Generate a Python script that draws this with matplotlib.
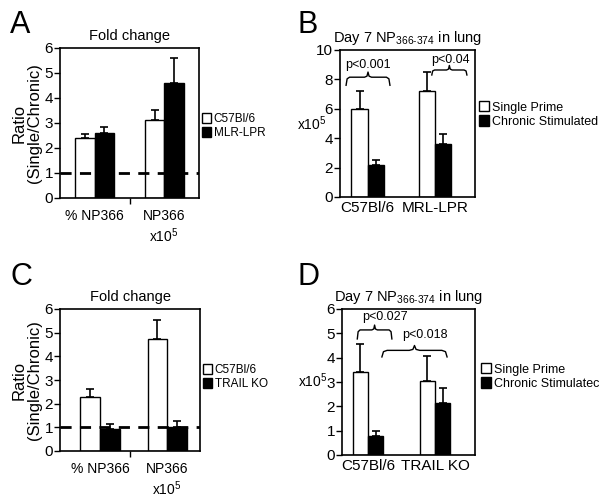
import numpy as np
import matplotlib
matplotlib.use("Agg")
import matplotlib.pyplot as plt
from matplotlib.patches import Patch

plt.rcParams['font.family'] = ['Liberation Sans', 'DejaVu Sans']
plt.rcParams['mathtext.default'] = 'regular'

W, H = 600, 504

# panel A: fold change, C57Bl/6 vs MLR-LPR
fold_cats = ['% NP366', 'NP366\nx10$^5$']
a_white = [2.4, 3.1]
a_white_err = [0.17, 0.4]
a_black = [2.6, 4.6]
a_black_err = [0.25, 1.0]

# panel B: day 7 counts, C57Bl/6 vs MRL-LPR
b_cats = ['C57Bl/6', 'MRL-LPR']
b_single = [6.0, 7.2]
b_single_err = [1.2, 1.3]
b_chronic = [2.2, 3.6]
b_chronic_err = [0.3, 0.7]

# panel C: fold change, C57Bl/6 vs TRAIL KO
c_white = [2.3, 4.75]
c_white_err = [0.33, 0.8]
c_black = [0.95, 1.0]
c_black_err = [0.18, 0.25]

# panel D: day 7 counts, C57Bl/6 vs TRAIL KO
d_cats = ['C57Bl/6', 'TRAIL KO']
d_single = [3.4, 3.05]
d_single_err = [1.15, 1.0]
d_chronic = [0.8, 2.15]
d_chronic_err = [0.2, 0.6]


def px_axes(fig, left, top, right, bottom):
    return fig.add_axes([left / W, 1 - bottom / H, (right - left) / W, (bottom - top) / H])


def bars(ax, centers, w, v1, e1, v2, e2):
    c = np.array(centers)
    ax.bar(c - w / 2, v1, w, color='white', edgecolor='black', linewidth=1.0, zorder=2)
    ax.bar(c + w / 2, v2, w, color='black', edgecolor='black', linewidth=1.0, zorder=2)
    ax.errorbar(c - w / 2, v1, yerr=[np.zeros(len(v1)), e1], fmt='none', ecolor='black',
                elinewidth=1.2, capsize=3, capthick=1.2, zorder=3)
    ax.errorbar(c + w / 2, v2, yerr=[np.zeros(len(v2)), e2], fmt='none', ecolor='black',
                elinewidth=1.2, capsize=3, capthick=1.2, zorder=3)


def style(ax, ymax, step=1):
    ax.set_xlim(0, 2)
    ax.set_ylim(0, ymax)
    ax.set_yticks(np.arange(0, ymax + 0.01, step))
    for s in ax.spines.values():
        s.set_linewidth(1.2)
    ax.tick_params(axis='y', direction='out', length=4, width=1.0, labelsize=11, pad=1)
    ax.tick_params(axis='x', length=0, labelsize=10, pad=8)


def brace(ax, x0, x1, y0, y1, y2):
    xm = (x0 + x1) / 2
    d = (x1 - x0) * 0.08
    xs = [x0, x0 + d * 0.3, x0 + d, xm - d, xm - d * 0.3, xm, xm + d * 0.3, xm + d, x1 - d, x1 - d * 0.3, x1]
    ys = [y0, y1 - (y1 - y0) * 0.2, y1, y1, y1 + (y2 - y1) * 0.2, y2,
          y1 + (y2 - y1) * 0.2, y1, y1, y1 - (y1 - y0) * 0.2, y0]
    ax.plot(xs, ys, color='black', linewidth=1.0, clip_on=False)


def legend(fig, x, y, labels, size):
    handles = [Patch(facecolor='white', edgecolor='black'), Patch(facecolor='black', edgecolor='black')]
    fig.legend(handles, labels, loc='upper left', bbox_to_anchor=(x / W, 1 - y / H),
               frameon=False, fontsize=size, handlelength=0.8, handleheight=0.9,
               handletextpad=0.2, labelspacing=0.15, borderpad=0, borderaxespad=0)


fig = plt.figure(figsize=(6, 5.04), dpi=100)

# A
ax = px_axes(fig, 60, 48, 199, 198)
bars(ax, [0.5, 1.5], 0.28, a_white, a_white_err, a_black, a_black_err)
ax.axhline(1, color='black', linestyle=(0, (4, 3)), linewidth=2, zorder=4)
style(ax, 6)
ax.set_xticks([0.5, 1.5], fold_cats, va='top')
ax.set_xticks([1.0], minor=True)
ax.tick_params(axis='x', which='minor', direction='out', length=4, width=1.0)
ax.set_title('Fold change', fontsize=10.5, pad=6)
ax.set_ylabel('Ratio\n(Single/Chronic)', fontsize=12, labelpad=2, linespacing=1.0)
legend(fig, 202, 113, ['C57Bl/6', 'MLR-LPR'], 8.5)
fig.text(10 / W, 1 - 33 / H, 'A', fontsize=22)

# B
ax = px_axes(fig, 340, 50, 475, 197)
bars(ax, [0.41, 1.41], 0.24, b_single, b_single_err, b_chronic, b_chronic_err)
style(ax, 10, 2)
ax.set_xticks([0.41, 1.41], b_cats)
ax.tick_params(axis='x', labelsize=11, pad=3)
ax.set_title('Day 7 NP$_{366\u2011374}$ in lung', fontsize=10.5, pad=6)
ax.set_ylabel('x10$^5$', fontsize=10, rotation=0, ha='right', va='center')
ax.yaxis.set_label_coords(-0.1, 0.5)
brace(ax, 0.09, 0.74, 7.6, 8.15, 8.5)
ax.text(0.42, 9.0, 'p<0.001', ha='center', va='center', fontsize=9)
brace(ax, 1.36, 1.88, 8.3, 8.64, 8.95)
ax.text(1.63, 9.35, 'p<0.04', ha='center', va='center', fontsize=9)
legend(fig, 479, 101, ['Single Prime', 'Chronic Stimulated'], 9)
fig.text(297 / W, 1 - 33 / H, 'B', fontsize=22)

# C
ax = px_axes(fig, 60, 309, 200, 451)
bars(ax, [0.57, 1.53], 0.28, c_white, c_white_err, c_black, c_black_err)
ax.axhline(1, color='black', linestyle=(0, (4, 3)), linewidth=2, zorder=4)
style(ax, 6)
ax.set_xticks([0.57, 1.53], fold_cats, va='top')
ax.set_xticks([1.0], minor=True)
ax.tick_params(axis='x', which='minor', direction='out', length=4, width=1.0)
ax.set_title('Fold change', fontsize=10.5, pad=6)
ax.set_ylabel('Ratio\n(Single/Chronic)', fontsize=12, labelpad=2, linespacing=1.0)
legend(fig, 203, 364, ['C57Bl/6', 'TRAIL KO'], 8.5)
fig.text(10 / W, 1 - 285 / H, 'C', fontsize=22)

# D
ax = px_axes(fig, 342, 309, 475, 455)
bars(ax, [0.39, 1.40], 0.23, d_single, d_single_err, d_chronic, d_chronic_err)
style(ax, 6)
ax.set_xticks([0.39, 1.40], d_cats)
ax.tick_params(axis='x', labelsize=11, pad=3)
ax.set_title('Day 7 NP$_{366\u2011374}$ in lung', fontsize=10.5, pad=6)
ax.set_ylabel('x10$^5$', fontsize=10, rotation=0, ha='right', va='center')
ax.yaxis.set_label_coords(-0.11, 0.51)
brace(ax, 0.23, 0.75, 4.77, 5.14, 5.34)
ax.text(0.65, 5.67, 'p<0.027', ha='center', va='center', fontsize=9)
brace(ax, 0.60, 1.58, 4.03, 4.3, 4.5)
ax.text(1.25, 4.93, 'p<0.018', ha='center', va='center', fontsize=9)
legend(fig, 481, 363, ['Single Prime', 'Chronic Stimulatec'], 9)
fig.text(297 / W, 1 - 285 / H, 'D', fontsize=22)

fig.savefig('out.png', dpi=100)
